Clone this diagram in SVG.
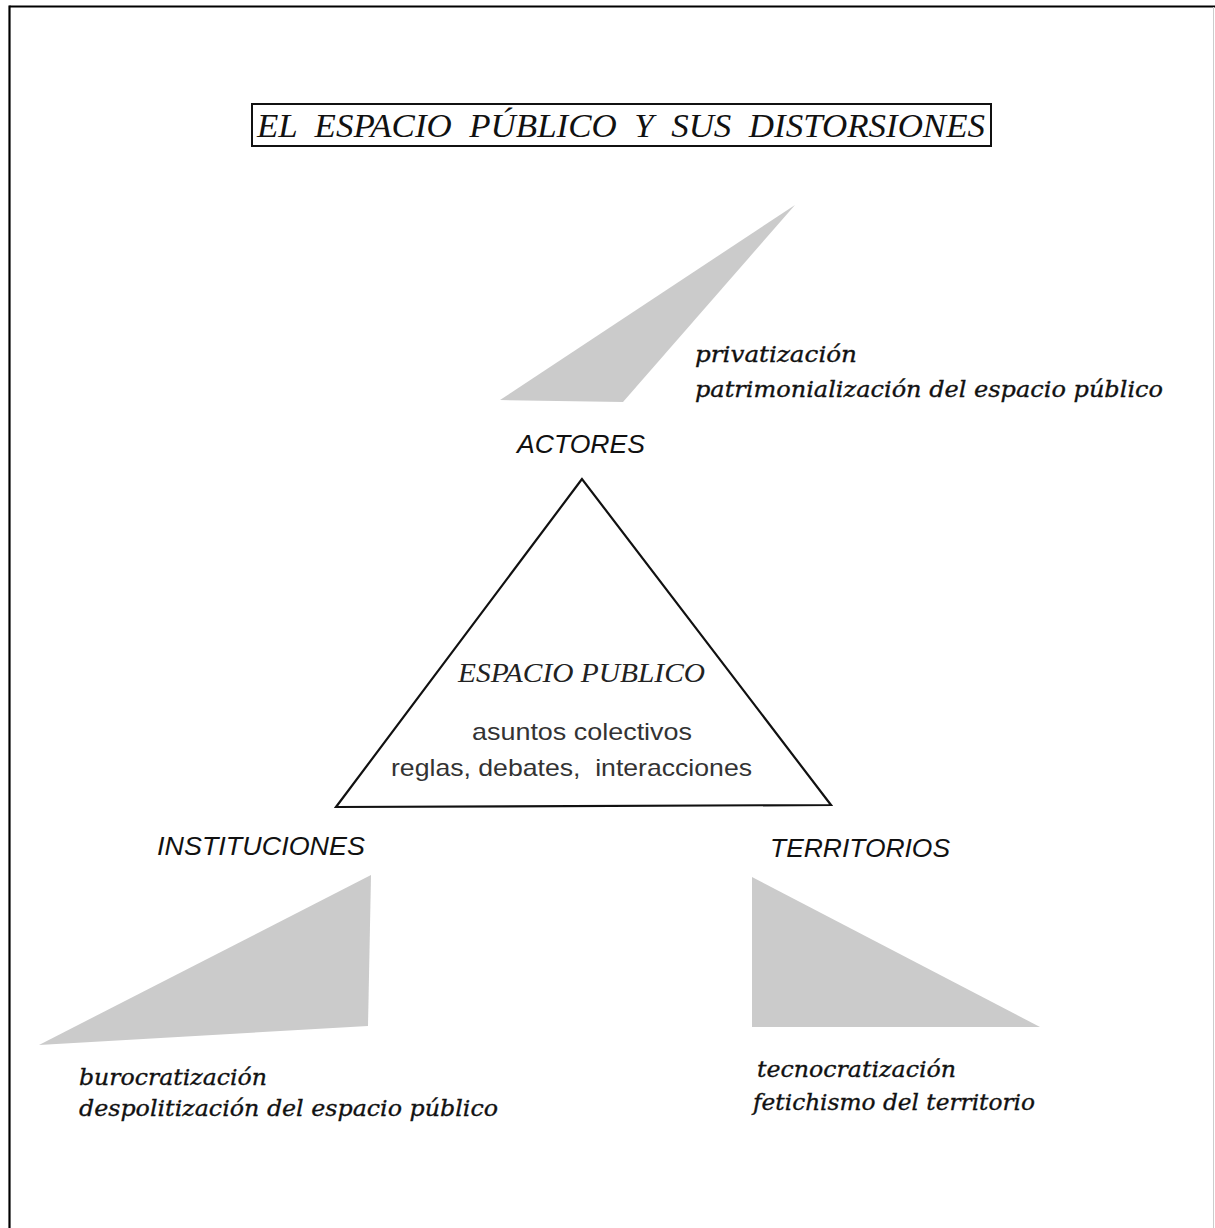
<svg xmlns="http://www.w3.org/2000/svg" width="1215" height="1228" viewBox="0 0 1215 1228">
<style>
.frame{stroke:#000;stroke-width:2.2;fill:none}
.shade{fill:#cbcbcb;stroke:none}
.tri{fill:#fff;stroke:#111;stroke-width:2.2;stroke-linejoin:miter}
.title{font-family:"Liberation Serif",serif;font-style:italic;font-size:33px;fill:#111}
.head{font-family:"Liberation Serif",serif;font-style:italic;font-size:27px;fill:#222}
.lab{font-family:"Liberation Sans",Arial,sans-serif;font-style:italic;font-size:25px;fill:#111}
.body{font-family:"Liberation Sans",Arial,sans-serif;font-size:24px;fill:#333}
.dist{font-family:"DejaVu Serif",serif;font-style:italic;font-size:23px;fill:#111;stroke:#111;stroke-width:0.35}
</style>
<rect width="1215" height="1228" fill="#fff"/>
<g id="frame">
<line class="frame" x1="9.5" y1="6.5" x2="1215" y2="6.5"/>
<line class="frame" x1="9.5" y1="5.5" x2="9.5" y2="1228"/>
<line x1="1213.5" y1="7" x2="1213.5" y2="1228" stroke="#ccc" stroke-width="1"/>
</g>
<g id="title">
<rect x="252" y="104" width="739" height="42" fill="#fff" stroke="#111" stroke-width="2"/>
<text class="title" x="257" y="137" textLength="728" lengthAdjust="spacingAndGlyphs" xml:space="preserve">EL  ESPACIO  PÚBLICO  Y  SUS  DISTORSIONES</text>
</g>
<g id="shade-actores"><polygon class="shade" points="500,400 795,205 623,402"/></g>
<g id="shade-instituciones"><polygon class="shade" points="39,1045 371,875 368,1026"/></g>
<g id="shade-territorios"><polygon class="shade" points="752,877 1040,1027 752,1027"/></g>
<g id="espacio-publico">
<polygon class="tri" points="582,479 336,807 831,805"/>
<text class="head" x="458" y="682" textLength="247" lengthAdjust="spacingAndGlyphs">ESPACIO PUBLICO</text>
<text class="body" x="472" y="740" textLength="220" lengthAdjust="spacingAndGlyphs">asuntos colectivos</text>
<text class="body" x="391" y="776" textLength="361" lengthAdjust="spacingAndGlyphs" xml:space="preserve">reglas, debates,  interacciones</text>
</g>
<g id="actores">
<text class="lab" x="517" y="453" textLength="128" lengthAdjust="spacingAndGlyphs">ACTORES</text>
<text class="dist" x="695" y="362" textLength="162" lengthAdjust="spacingAndGlyphs">privatización</text>
<text class="dist" x="695" y="397" textLength="468" lengthAdjust="spacingAndGlyphs">patrimonialización del espacio público</text>
</g>
<g id="instituciones">
<text class="lab" x="157" y="855" textLength="208" lengthAdjust="spacingAndGlyphs">INSTITUCIONES</text>
<text class="dist" x="79" y="1085" textLength="188" lengthAdjust="spacingAndGlyphs">burocratización</text>
<text class="dist" x="79" y="1116" textLength="419" lengthAdjust="spacingAndGlyphs">despolitización del espacio público</text>
</g>
<g id="territorios">
<text class="lab" x="770" y="857" textLength="180" lengthAdjust="spacingAndGlyphs">TERRITORIOS</text>
<text class="dist" x="757" y="1077" textLength="199" lengthAdjust="spacingAndGlyphs">tecnocratización</text>
<text class="dist" x="753" y="1110" textLength="282" lengthAdjust="spacingAndGlyphs">fetichismo del territorio</text>
</g>
<g id="connectors"></g>
</svg>
